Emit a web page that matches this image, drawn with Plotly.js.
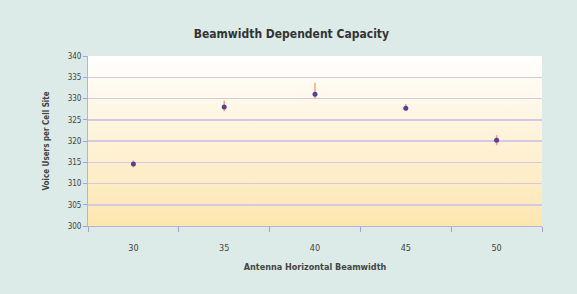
<!DOCTYPE html>
<html>
<head>
<meta charset="utf-8">
<script src="https://cdn.plot.ly/plotly-3.0.1.min.js"></script>
<style>
html,body{margin:0;padding:0;background:#dcebe7;}
#chart{width:577px;height:294px;}
</style>
</head>
<body>
<div id="chart"></div>
<script>
const beamwidths = ['30', '35', '40', '45', '50'];
const voiceUsers = [314.6, 328.0, 331.0, 327.7, 320.2];
const errPlus = [0.8, 1.5, 2.7, 1.0, 1.2];
const errMinus = [0.8, 1.0, 1.0, 0.6, 1.2];
const yTicks = [300, 305, 310, 315, 320, 325, 330, 335, 340];

const gradSvg = '<svg xmlns="http://www.w3.org/2000/svg" width="10" height="100" preserveAspectRatio="none">' +
  '<defs><linearGradient id="g" x1="0" y1="0" x2="0" y2="1">' +
  '<stop offset="0" stop-color="#ffffff"/><stop offset="1" stop-color="#fde6b0"/></linearGradient></defs>' +
  '<rect width="10" height="100" fill="url(#g)"/></svg>';
const gradUri = 'data:image/svg+xml;base64,' + btoa(gradSvg);

const font = 'DejaVu Sans Condensed, Liberation Sans Narrow, Arial Narrow, sans-serif';

const trace = {
  type: 'scatter',
  mode: 'markers',
  x: beamwidths,
  y: voiceUsers,
  marker: {color: '#5b3f94', size: 5, symbol: 'circle'},
  error_y: {type: 'data', symmetric: false, array: errPlus, arrayminus: errMinus,
            color: '#f2a27a', thickness: 1.5, width: 0},
  hoverinfo: 'x+y'
};

const layout = {
  width: 577, height: 294,
  paper_bgcolor: '#dcebe7',
  plot_bgcolor: 'rgba(0,0,0,0)',
  margin: {l: 88, r: 35, t: 56, b: 68},
  showlegend: false,
  title: {text: '<b>Beamwidth Dependent Capacity</b>', x: 0.505, xanchor: 'center', y: 0.885, yanchor: 'middle',
          font: {family: font, size: 12, color: '#333333'}},
  xaxis: {
    type: 'category',
    range: [-0.5, 4.5],
    tickson: 'boundaries',
    ticks: 'outside', ticklen: 5, tickcolor: '#a79fcc',
    ticklabelstandoff: 13,
    showline: true, linecolor: '#b9b1d6', linewidth: 1,
    showgrid: false, zeroline: false,
    tickfont: {family: font, size: 9, color: '#444444'},
    title: {text: '<b>Antenna Horizontal Beamwidth</b>', standoff: 11, font: {family: font, size: 9, color: '#444444'}}
  },
  yaxis: {
    range: [300, 340],
    tickvals: yTicks,
    ticktext: yTicks.map(String),
    ticks: 'outside', ticklen: 4, tickcolor: '#a79fcc',
    showline: true, linecolor: '#b9b1d6', linewidth: 1,
    showgrid: true, gridcolor: '#d3c9e2', gridwidth: 1.5,
    zeroline: false,
    tickfont: {family: font, size: 8, color: '#444444'},
    title: {text: '<b>Voice Users per Cell Site</b>', standoff: 16, font: {family: font, size: 8, color: '#444444'}}
  },
  images: [{source: gradUri, xref: 'paper', yref: 'paper', x: 0, y: 1, sizex: 1, sizey: 1,
            xanchor: 'left', yanchor: 'top', sizing: 'stretch', layer: 'below'}]
};

Plotly.newPlot('chart', [trace], layout, {displayModeBar: false, staticPlot: true});
</script>
</body>
</html>
